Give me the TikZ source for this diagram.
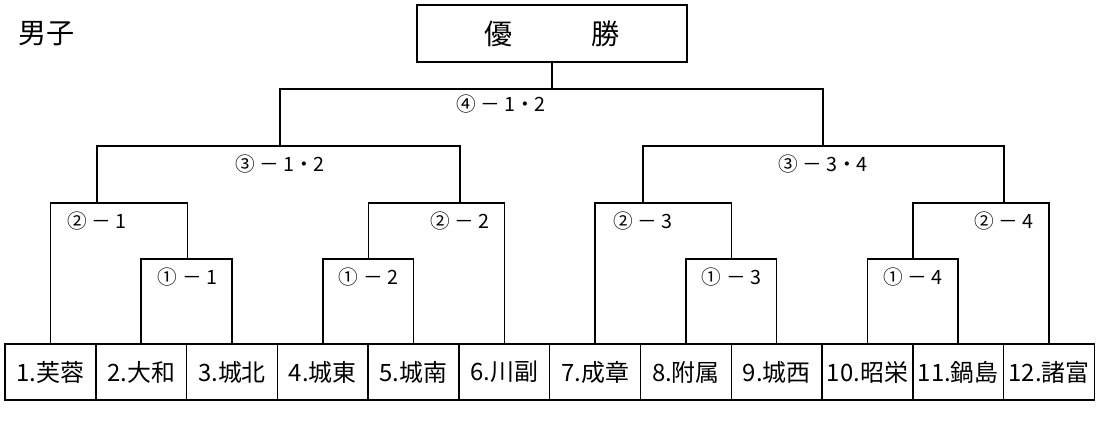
\documentclass[tikz,border=0pt]{standalone}
\usepackage{fontspec}
\setmainfont{Noto Sans CJK JP}
\usetikzlibrary{positioning}

\begin{document}
\begin{tikzpicture}[x=0.025cm, y=-0.025cm, node distance=2.269cm, line width=1.1pt,
    team/.style={draw, minimum width=2.269cm, minimum height=1.4cm, inner sep=0pt,
        font=\fontsize{17}{17}\selectfont},
    lbl/.style={inner sep=0pt, font=\fontsize{14}{14}\selectfont},
    champ/.style={draw, line width=2pt, minimum width=6.75cm, minimum height=1.425cm,
        font=\fontsize{20}{20}\selectfont}]
    \useasboundingbox (0,0) rectangle (1100,443);

    % Title
    \node[font=\fontsize{20}{20}\selectfont] (title) at (47,34) {男子};
    \node[champ] (win) at (552,33.5) {優\hspace{2.8em}勝};

    % Teams
    \node[team] (t1) at (50.4,372) {1.芙蓉};
    \node[team] (t2) [right of=t1] {2.大和};
    \node[team] (t3) [right of=t2] {3.城北};
    \node[team] (t4) [right of=t3] {4.城東};
    \node[team] (t5) [right of=t4] {5.城南};
    \node[team] (t6) [right of=t5] {6.川副};
    \node[team] (t7) [right of=t6] {7.成章};
    \node[team] (t8) [right of=t7] {8.附属};
    \node[team] (t9) [right of=t8] {9.城西};
    \node[team] (t10) [right of=t9] {10.昭栄};
    \node[team] (t11) [right of=t10] {11.鍋島};
    \node[team] (t12) [right of=t11] {12.諸富};

    % Junctions
    \coordinate (b1) at (187.5,259);
    \coordinate (b2) at (368.5,259);
    \coordinate (b3) at (731.5,259);
    \coordinate (b4) at (913,259);
    \coordinate (c1) at (97,203);
    \coordinate (c2) at (460,203);
    \coordinate (c3) at (643,203);
    \coordinate (c4) at (1004,203);
    \coordinate (d1) at (280,146);
    \coordinate (d2) at (823,146);
    \coordinate (e) at (552,89);

    % Brackets
    \draw (t2.north) |- (b1) -| (t3.north);
    \draw (t4.north) |- (b2) -| (t5.north);
    \draw (t8.north) |- (b3) -| (t9.north);
    \draw (t10.north) |- (b4) -| (t11.north);
    \draw (t1.north) |- (c1) -| (b1);
    \draw (b2) |- (c2) -| (t6.north);
    \draw (t7.north) |- (c3) -| (b3);
    \draw (b4) |- (c4) -| (t12.north);
    \draw (c1) |- (d1) -| (c2);
    \draw (c3) |- (d2) -| (c4);
    \draw (d1) |- (e) -| (d2);
    \draw (e) -- (win.south);

    % Match labels
    \node[lbl, below=2mm of b1] (l11) {① － 1};
    \node[lbl, below=2mm of b2] (l12) {① － 2};
    \node[lbl, below=2mm of b3] (l13) {① － 3};
    \node[lbl, below=2mm of b4] (l14) {① － 4};
    \node[lbl, below=2mm of c1] (l21) {② － 1};
    \node[lbl, below=2mm of c2] (l22) {② － 2};
    \node[lbl, below=2mm of c3] (l23) {② － 3};
    \node[lbl, below=2mm of c4] (l24) {② － 4};
    \node[lbl, below=2mm of d1] (l31) {③ － 1・2};
    \node[lbl, below=2mm of d2] (l32) {③ － 3・4};
    \node[lbl] (l41) at (501,104) {④ － 1・2};
\end{tikzpicture}
\end{document}
